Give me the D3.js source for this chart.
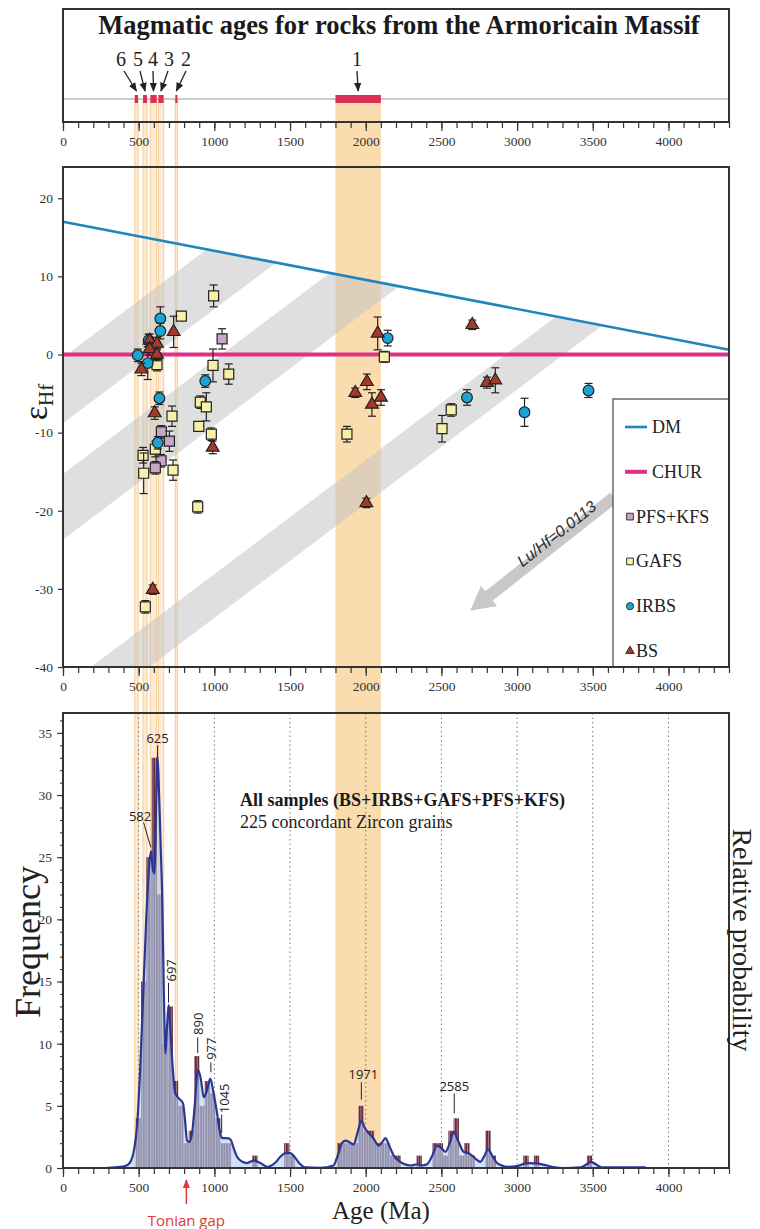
<!DOCTYPE html>
<html>
<head>
<meta charset="utf-8">
<title>Magmatic ages, Armorican Massif</title>
<script src="https://cdn.jsdelivr.net/npm/d3@7"></script>
<style>
  body { margin: 0; background: #fff; }
  text { font-family: 'Liberation Serif', 'Times New Roman', serif; }
</style>
</head>
<body>
<svg id="chart" width="760" height="1229"></svg>
<script>
// ---------- data ----------
const eventLabels = ['1', '2', '3', '4', '5', '6'];
const eventStart  = [1800, 742, 630, 577, 529, 474];
const eventEnd    = [2100, 756, 665, 619, 555, 496];

const dmAge = [0, 4400], dmEps = [17, 0.6];
const churAge = [0, 4400], churEps = [0, 0];

// Lu/Hf = 0.0113 evolution bands (centre eps at 0 Ma, half width in eps units)
const bandEps0 = [-4.6, -19.5, -45.5];
const bandHalf = [4.2, 4.2, 2.8];
const bandSlope = 14.6;   // eps units per Ga

const pfsAge = [1051, 650, 703, 648, 610];
const pfsEps = [2.0, -9.9, -11.1, -13.6, -14.5];
const pfsErr = [1.3, 0.8, 1.3, 0.8, 0.8];

const gafsAge = [995, 782, 621, 991, 1095, 720, 907, 947, 897, 980, 610, 529, 533, 727, 890, 544, 2123, 1876, 2504, 2565];
const gafsEps = [7.5, 4.9, -1.3, -1.4, -2.5, -7.9, -6.1, -6.7, -9.2, -10.2, -12.1, -12.9, -15.2, -14.8, -19.5, -32.3, -0.3, -10.2, -9.5, -7.1];
const gafsErr = [1.4, 0.5, 0.8, 2.1, 1.3, 1.3, 0.8, 1.8, 0.6, 0.8, 1.0, 1.0, 2.6, 1.3, 0.8, 0.8, 0.7, 1.0, 1.7, 0.8];

const irbsAge = [643, 643, 494, 560, 566, 940, 637, 626, 2145, 2669, 3049, 3472];
const irbsEps = [4.6, 3.0, -0.1, -1.1, 1.8, -3.4, -5.6, -11.3, 2.1, -5.5, -7.4, -4.6];
const irbsErr = [1.5, 1.0, 0.8, 2.1, 0.8, 0.8, 0.8, 0.8, 1.0, 1.0, 1.8, 0.9];

const bsAge = [731, 518, 572, 621, 572, 621, 606, 989, 593, 2079, 2704, 2008, 1931, 2041, 2101, 2004, 2801, 2856];
const bsEps = [2.9, -1.9, 1.8, 1.4, 0.7, 0.0, -7.5, -11.9, -30.1, 2.7, 3.8, -3.5, -4.9, -6.4, -5.5, -19.0, -3.6, -3.3];
const bsErr = [2.0, 0.8, 0.8, 0.8, 0.8, 0.8, 0.8, 0.8, 0.6, 2.1, 0.6, 1.0, 0.6, 1.5, 1.0, 0.6, 0.7, 1.6];

const luHfArrowFrom = [3640, -18.3], luHfArrowTo = [2690, -32.8];

// histogram, 35 Ma bins (bin start, count)
const binWidth = 35;
const binStart = [481, 516, 551, 586, 621, 656, 691, 726, 761, 796, 831, 866, 901, 936, 971, 1006, 1041, 1076,
                  1251, 1461, 1496,
                  1811, 1846, 1881, 1916, 1951, 1986, 2021, 2056, 2091, 2126, 2161, 2196,
                  2336, 2441, 2476, 2511, 2546, 2581, 2616, 2651, 2686, 2791, 2826,
                  3041, 3111, 3461];
const binCount = [4, 15, 25, 33, 22, 10, 13, 7, 5, 2, 3, 9, 5, 7, 6, 4, 2, 2,
                  1, 2, 1,
                  2, 2, 2, 2, 5, 3, 3, 2, 2, 2, 1, 1,
                  1, 2, 2, 1, 3, 4, 1, 2, 1, 3, 1,
                  1, 1, 1];

// relative probability curve (scaled to frequency axis)
const kdeAge = [280, 350, 420, 450, 470, 490, 510, 530, 550, 570, 582, 594, 606, 615, 625, 635, 645, 655, 665, 677,
  688, 698, 710, 725, 742, 765, 793, 805, 820, 835, 853, 870, 892, 910, 930, 950, 973, 995, 1018, 1035, 1051, 1080,
  1106, 1130, 1150, 1185, 1216, 1260, 1304, 1350, 1400, 1436, 1470, 1502, 1535, 1568, 1600, 1700, 1787, 1815, 1843,
  1865, 1890, 1920, 1945, 1971, 1995, 2020, 2050, 2086, 2110, 2130, 2155, 2185, 2215, 2250, 2300, 2339, 2370, 2405,
  2440, 2471, 2500, 2526, 2555, 2581, 2610, 2647, 2675, 2702, 2730, 2757, 2785, 2808, 2835, 2867, 2900, 2933, 3000,
  3050, 3087, 3140, 3197, 3250, 3300, 3420, 3460, 3490, 3520, 3560, 3850];
const kdeVal = [0, 0.05, 0.2, 0.6, 1.5, 3.5, 8, 14, 20, 24.5, 25.5, 24, 23.7, 29, 33.1, 30, 26, 22, 15, 9.2,
  11.5, 13.1, 11, 8, 6, 5.6, 5.2, 4, 2.2, 2.1, 2.8, 5, 7.9, 7.2, 5.7, 6.2, 7.2, 6, 4.4, 3, 2.4, 2.4,
  2.3, 1.5, 0.9, 0.5, 0.4, 0.6, 0.4, 0.1, 0.4, 0.9, 1.2, 1.2, 0.8, 0.3, 0.05, 0.02, 0.2, 1.0, 2.0,
  2.2, 2.1, 1.9, 2.8, 3.8, 3.2, 2.8, 2.4, 1.8, 2.1, 2.4, 1.8, 1.0, 0.6, 0.35, 0.2, 0.3, 0.2, 0.3,
  1.0, 1.8, 1.6, 1.3, 2.0, 2.9, 2.2, 1.3, 1.2, 1.0, 0.7, 0.5, 1.0, 1.5, 1.0, 0.4, 0.2, 0.1, 0.15,
  0.35, 0.4, 0.35, 0.2, 0.05, 0, 0.05, 0.3, 0.5, 0.3, 0.05, 0.05];

const peakAge = [582, 625, 697, 890, 977, 1045, 1971, 2585];

// ---------- layout ----------
const SERIF = "'Liberation Serif', 'Times New Roman', serif";
const SANS = "'Open Sans', 'Liberation Sans', sans-serif";
const svg = d3.select('#chart');
const X0 = 63, X1 = 729;
const x = d3.scaleLinear().domain([0, 4400]).range([X0, X1]);
const P1 = {top: 9, bottom: 122};
const P2 = {top: 167, bottom: 667};
const P3 = {top: 713, bottom: 1168};
const yE = d3.scaleLinear().domain([-40, 24]).range([P2.bottom, P2.top]);
const yF = d3.scaleLinear().domain([0, 36.6]).range([P3.bottom, P3.top]);
const plainNum = d => String(d);

const defs = svg.append('defs');
defs.append('clipPath').attr('id', 'clipMid').append('rect')
  .attr('x', X0).attr('y', P2.top).attr('width', X1 - X0).attr('height', P2.bottom - P2.top);
const pat = defs.append('pattern').attr('id', 'stripes')
  .attr('patternUnits', 'userSpaceOnUse').attr('width', 2.6).attr('height', 10);
pat.append('rect').attr('width', 2.6).attr('height', 10).attr('fill', '#6a2a3c');
pat.append('rect').attr('x', 2.0).attr('width', 0.6).attr('height', 10).attr('fill', '#c4b4c0');

// orange magmatic event bands (run through all three panels)
svg.append('g').selectAll('rect').data(eventLabels).join('rect')
  .attr('x', (d, i) => x(eventStart[i]))
  .attr('width', (d, i) => x(eventEnd[i]) - x(eventStart[i]))
  .attr('y', 100).attr('height', P3.bottom - 100)
  .attr('fill', (d, i) => i === 0 ? '#fbdcae' : '#fdebd3')
  .attr('stroke', (d, i) => i === 0 ? 'none' : '#f8d3a2')
  .attr('stroke-width', 1.2);

// x axis helper
function xAxis(yPos) {
  const g = svg.append('g').attr('transform', `translate(0,${yPos})`);
  g.append('g').call(d3.axisBottom(x).tickValues(d3.range(0, 4401, 100)).tickSize(6).tickFormat(''))
    .call(a => a.select('.domain').remove());
  g.append('g').call(d3.axisBottom(x).tickValues(d3.range(0, 4001, 500)).tickSize(9).tickPadding(5)
      .tickFormat(plainNum))
    .call(a => a.select('.domain').remove());
  g.selectAll('line').attr('stroke', '#333').attr('stroke-width', 1.2);
  g.selectAll('text').style('font-family', SERIF).style('font-size', '13.5px').style('fill', '#333');
  return g;
}

// ---------- top panel ----------
svg.append('line').attr('x1', X0).attr('x2', X1).attr('y1', 99).attr('y2', 99)
  .attr('stroke', '#999').attr('stroke-width', 1.2);
svg.append('g').selectAll('rect').data(eventLabels).join('rect')
  .attr('x', (d, i) => x(eventStart[i]))
  .attr('width', (d, i) => x(eventEnd[i]) - x(eventStart[i]))
  .attr('y', 95).attr('height', 8).attr('fill', '#dc2f55');
svg.append('rect').attr('x', X0).attr('y', P1.top).attr('width', X1 - X0).attr('height', P1.bottom - P1.top)
  .attr('fill', 'none').attr('stroke', '#333').attr('stroke-width', 2);
svg.append('text').attr('x', 399).attr('y', 34).attr('text-anchor', 'middle')
  .style('font-size', '26.5px').style('font-weight', 'bold').style('fill', '#1a1a1a')
  .text('Magmatic ages for rocks from the Armoricain Massif');

defs.append('marker').attr('id', 'ah').attr('viewBox', '0 0 10 10').attr('refX', 9).attr('refY', 5)
  .attr('markerWidth', 7).attr('markerHeight', 7).attr('orient', 'auto')
  .append('path').attr('d', 'M0,1 L10,5 L0,9 Z').attr('fill', '#222');
const eventLabelX = [357, 186, 169, 153, 138, 121];
const arrowStartDx = [0, 0, -1, 0, 2, 3];
eventLabels.forEach((lab, i) => {
  const ex = x((eventStart[i] + eventEnd[i]) / 2);
  svg.append('text').attr('x', eventLabelX[i]).attr('y', 66).attr('text-anchor', 'middle')
    .style('font-size', '20px').style('fill', '#222').text(lab);
  svg.append('line').attr('x1', eventLabelX[i] + arrowStartDx[i])
    .attr('y1', 71).attr('x2', ex).attr('y2', 91)
    .attr('stroke', '#222').attr('stroke-width', 1.3).attr('marker-end', 'url(#ah)');
});
xAxis(P1.bottom);

// ---------- middle panel ----------
const mid = svg.append('g');
const bands = mid.append('g').attr('clip-path', 'url(#clipMid)');
const dmSlope = (dmEps[1] - dmEps[0]) / (dmAge[1] - dmAge[0]);
const dmAt = t => dmEps[0] + dmSlope * (t - dmAge[0]);
bandEps0.forEach((c, i) => {
  const k = bandSlope / 1000;
  const e0lo = c - bandHalf[i], e0hi = c + bandHalf[i];
  const tLo = (dmEps[0] - e0lo) / (k - dmSlope);
  const tHi = (dmEps[0] - e0hi) / (k - dmSlope);
  const pts = [[-500, e0lo - 0.5 * bandSlope], [tLo, dmAt(tLo)], [tHi, dmAt(tHi)], [-500, e0hi - 0.5 * bandSlope]];
  bands.append('path')
    .attr('d', d3.line().x(p => x(p[0])).y(p => yE(p[1]))(pts) + 'Z')
    .attr('fill', '#c4c4c4').attr('fill-opacity', 0.55);
});

// Lu/Hf arrow
(function () {
  const [ax, ay] = [x(luHfArrowFrom[0]), yE(luHfArrowFrom[1])];
  const [bx, by] = [x(luHfArrowTo[0]), yE(luHfArrowTo[1])];
  const L = Math.hypot(bx - ax, by - ay), ux = (bx - ax) / L, uy = (by - ay) / L;
  const nx = -uy, ny = ux, w = 6, hw = 13, hl = 24;
  const hx = bx - ux * hl, hy = by - uy * hl;
  const pts = [[ax + nx * w, ay + ny * w], [hx + nx * w, hy + ny * w], [hx + nx * hw, hy + ny * hw], [bx, by],
               [hx - nx * hw, hy - ny * hw], [hx - nx * w, hy - ny * w], [ax - nx * w, ay - ny * w]];
  mid.append('polygon').attr('points', pts.map(p => p.join(',')).join(' ')).attr('fill', '#c8c8c8');
  const ang = Math.atan2(by - ay, bx - ax) * 180 / Math.PI + 180;
  const mx = (ax + bx) / 2 + 18, my = (ay + by) / 2 - 16;
  mid.append('text').attr('transform', `translate(${mx},${my}) rotate(${ang})`)
    .attr('text-anchor', 'middle')
    .style('font-family', "'Liberation Sans', Arial, sans-serif").style('font-size', '16px')
    .style('font-style', 'italic').style('fill', '#2a2a2a')
    .text('Lu/Hf=0.0113');
})();

const lineGen = d3.line().x(d => x(d[0])).y(d => yE(d[1]));
mid.append('path').attr('d', lineGen(churAge.map((a, i) => [a, churEps[i]])))
  .attr('stroke', '#df2f86').attr('stroke-width', 4).attr('fill', 'none');
mid.append('path').attr('d', lineGen(dmAge.map((a, i) => [a, dmEps[i]])))
  .attr('stroke', '#1f86bd').attr('stroke-width', 2.6).attr('fill', 'none');

const groups = [
  {name: 'PFS+KFS', age: pfsAge, eps: pfsEps, err: pfsErr, sym: d3.symbolSquare, size: 100, fill: '#c7a6c8'},
  {name: 'GAFS', age: gafsAge, eps: gafsEps, err: gafsErr, sym: d3.symbolSquare, size: 100, fill: '#f6f1a6'},
  {name: 'IRBS', age: irbsAge, eps: irbsEps, err: irbsErr, sym: d3.symbolCircle, size: 90, fill: '#1ba4d6'},
  {name: 'BS', age: bsAge, eps: bsEps, err: bsErr, sym: d3.symbolTriangle, size: 70, fill: '#a53a2c'}
];
const pts = mid.append('g');
groups.forEach(g => {
  g.age.forEach((a, i) => {
    const px = x(a), yTop = yE(g.eps[i] + g.err[i]), yBot = yE(g.eps[i] - g.err[i]);
    const e = pts.append('g').attr('stroke', '#222').attr('stroke-width', 1.2);
    e.append('line').attr('x1', px).attr('x2', px).attr('y1', yTop).attr('y2', yBot);
    e.append('line').attr('x1', px - 4).attr('x2', px + 4).attr('y1', yTop).attr('y2', yTop);
    e.append('line').attr('x1', px - 4).attr('x2', px + 4).attr('y1', yBot).attr('y2', yBot);
    pts.append('path').attr('d', d3.symbol(g.sym, g.size)())
      .attr('transform', `translate(${px},${yE(g.eps[i])})`)
      .attr('fill', g.fill).attr('stroke', '#222').attr('stroke-width', 1.2);
  });
});

// legend
const lg = mid.append('g');
lg.append('rect').attr('x', 613).attr('y', 399).attr('width', X1 - 613).attr('height', P2.bottom - 399)
  .attr('fill', '#fff').attr('stroke', '#444').attr('stroke-width', 1.2);
const legendItems = [
  {name: 'DM', line: '#1f86bd', w: 2.6},
  {name: 'CHUR', line: '#df2f86', w: 4},
  groups[0], groups[1], groups[2], groups[3]
];
legendItems.forEach((it, i) => {
  const cy = 427 + i * 44.8;
  if (it.line) {
    lg.append('line').attr('x1', 625).attr('x2', 647).attr('y1', cy).attr('y2', cy)
      .attr('stroke', it.line).attr('stroke-width', it.w);
    lg.append('text').attr('x', 652).attr('y', cy + 6).style('font-size', '18px').style('fill', '#222').text(it.name);
  } else {
    lg.append('path').attr('d', d3.symbol(it.sym, it.size * 0.45)())
      .attr('transform', `translate(630,${cy})`)
      .attr('fill', it.fill).attr('stroke', '#333').attr('stroke-width', 1);
    lg.append('text').attr('x', 636).attr('y', cy + 6).style('font-size', '18px').style('fill', '#222').text(it.name);
  }
});

svg.append('rect').attr('x', X0).attr('y', P2.top).attr('width', X1 - X0).attr('height', P2.bottom - P2.top)
  .attr('fill', 'none').attr('stroke', '#333').attr('stroke-width', 2);
const yEAxis = svg.append('g').attr('transform', `translate(${X0},0)`)
  .call(d3.axisLeft(yE).tickValues(d3.range(-40, 21, 10)).tickSize(5).tickPadding(5).tickFormat(plainNum));
yEAxis.select('.domain').remove();
yEAxis.selectAll('line').attr('stroke', '#333').attr('stroke-width', 1.2);
yEAxis.selectAll('text').style('font-family', SERIF).style('font-size', '13.5px').style('fill', '#333');
xAxis(P2.bottom);

const epsLabel = svg.append('text').attr('transform', 'translate(47,402) rotate(-90)')
  .attr('text-anchor', 'middle').style('font-size', '34px').style('fill', '#222');
epsLabel.append('tspan').text('ε');
epsLabel.append('tspan').style('font-size', '21px').attr('dy', 6).text('Hf');

// ---------- bottom panel ----------
const bot = svg.append('g');
bot.append('g').selectAll('line').data(d3.range(500, 4001, 500)).join('line')
  .attr('x1', d => x(d)).attr('x2', d => x(d)).attr('y1', P3.top).attr('y2', P3.bottom)
  .attr('stroke', '#777').attr('stroke-width', 1).attr('stroke-dasharray', '1.5,3');

bot.append('g').selectAll('rect').data(binStart).join('rect')
  .attr('x', d => x(d)).attr('width', x(binWidth) - x(0))
  .attr('y', (d, i) => yF(binCount[i])).attr('height', (d, i) => yF(0) - yF(binCount[i]))
  .attr('fill', 'url(#stripes)');

const kdePts = kdeAge.map((a, i) => [a, kdeVal[i]]);
bot.append('path')
  .attr('d', d3.area().x(d => x(d[0])).y0(yF(0)).y1(d => yF(d[1])).curve(d3.curveMonotoneX)(kdePts))
  .attr('fill', '#b2d0f0').attr('fill-opacity', 0.62);
bot.append('path')
  .attr('d', d3.line().x(d => x(d[0])).y(d => yF(d[1])).curve(d3.curveMonotoneX)(kdePts))
  .attr('fill', 'none').attr('stroke', '#2c3592').attr('stroke-width', 2.2);

// peak label layout (offsets in px, heights in frequency units)
const peakLayout = [
  {tx: -11, ty: 28.3, lx1: -7.5, l1: 27.8, lx2: -0.3, l2: 25.8, rot: false},
  {tx: 0, ty: 34.6, lx1: 0, l1: 34.0, lx2: 0, l2: 33.1, rot: false},
  {tx: 2, ty: 15.9, lx1: 0, l1: 14.9, lx2: 0, l2: 13.3, rot: true},
  {tx: 0, ty: 11.6, lx1: 0, l1: 10.5, lx2: 0, l2: 9.25, rot: true},
  {tx: 0, ty: 9.6, lx1: 0, l1: 8.5, lx2: 0, l2: 7.7, rot: true},
  {tx: 2.5, ty: 5.6, lx1: 0.5, l1: 4.3, lx2: 0.5, l2: 2.8, rot: true},
  {tx: 2, ty: 7.6, lx1: 0, l1: 6.9, lx2: 0, l2: 5.5, rot: false},
  {tx: 0, ty: 6.6, lx1: 0, l1: 6.0, lx2: 0, l2: 4.4, rot: false}
];
peakAge.forEach((a, i) => {
  const p = peakLayout[i], px = x(a);
  bot.append('line').attr('x1', px + p.lx1).attr('x2', px + p.lx2).attr('y1', yF(p.l1)).attr('y2', yF(p.l2))
    .attr('stroke', '#222').attr('stroke-width', 1);
  const t = bot.append('text').style('font-family', SANS).style('font-size', '13px').style('fill', '#222')
    .attr('text-anchor', 'middle').attr('dominant-baseline', 'central').text(a);
  if (p.rot) t.attr('transform', `translate(${px + p.tx},${yF(p.ty)}) rotate(-90)`);
  else t.attr('x', px + p.tx).attr('y', yF(p.ty));
});

svg.append('text').attr('x', 240).attr('y', 806).style('font-size', '18px').style('font-weight', 'bold')
  .style('fill', '#1a1a1a').text('All samples (BS+IRBS+GAFS+PFS+KFS)');
svg.append('text').attr('x', 240).attr('y', 828).style('font-size', '18px').style('fill', '#222')
  .text('225 concordant Zircon grains');

svg.append('rect').attr('x', X0).attr('y', P3.top).attr('width', X1 - X0).attr('height', P3.bottom - P3.top)
  .attr('fill', 'none').attr('stroke', '#333').attr('stroke-width', 2);
const yFMinor = svg.append('g').attr('transform', `translate(${X0},0)`)
  .call(d3.axisLeft(yF).tickValues(d3.range(0, 37, 1)).tickSize(3).tickFormat(''));
const yFMajor = svg.append('g').attr('transform', `translate(${X0},0)`)
  .call(d3.axisLeft(yF).tickValues(d3.range(0, 36, 5)).tickSize(6).tickPadding(5).tickFormat(plainNum));
[yFMinor, yFMajor].forEach(a => {
  a.select('.domain').remove();
  a.selectAll('line').attr('stroke', '#333').attr('stroke-width', 1.1);
  a.selectAll('text').style('font-family', SERIF).style('font-size', '13.5px').style('fill', '#333');
});
xAxis(P3.bottom);

svg.append('text').attr('x', 381).attr('y', 1219).attr('text-anchor', 'middle').style('font-size', '25px')
  .style('fill', '#222').text('Age (Ma)');
svg.append('text').attr('transform', 'translate(40,942) rotate(-90)').attr('text-anchor', 'middle')
  .style('font-size', '36px').style('fill', '#222').text('Frequency');
svg.append('text').attr('transform', 'translate(733,940) rotate(90)').attr('text-anchor', 'middle')
  .style('font-size', '28px').style('fill', '#222').text('Relative probability');

// Tonian gap
defs.append('marker').attr('id', 'ahr').attr('viewBox', '0 0 10 10').attr('refX', 9).attr('refY', 5)
  .attr('markerWidth', 6).attr('markerHeight', 6).attr('orient', 'auto')
  .append('path').attr('d', 'M0,1 L10,5 L0,9 Z').attr('fill', '#e03a33');
svg.append('line').attr('x1', x(815)).attr('x2', x(815)).attr('y1', 1204).attr('y2', 1180)
  .attr('stroke', '#e03a33').attr('stroke-width', 1.5).attr('marker-end', 'url(#ahr)');
svg.append('text').attr('x', x(815)).attr('y', 1226).attr('text-anchor', 'middle')
  .style('font-family', SANS).style('font-size', '15px').style('fill', '#e03a33')
  .text('Tonian gap');
</script>
</body>
</html>
